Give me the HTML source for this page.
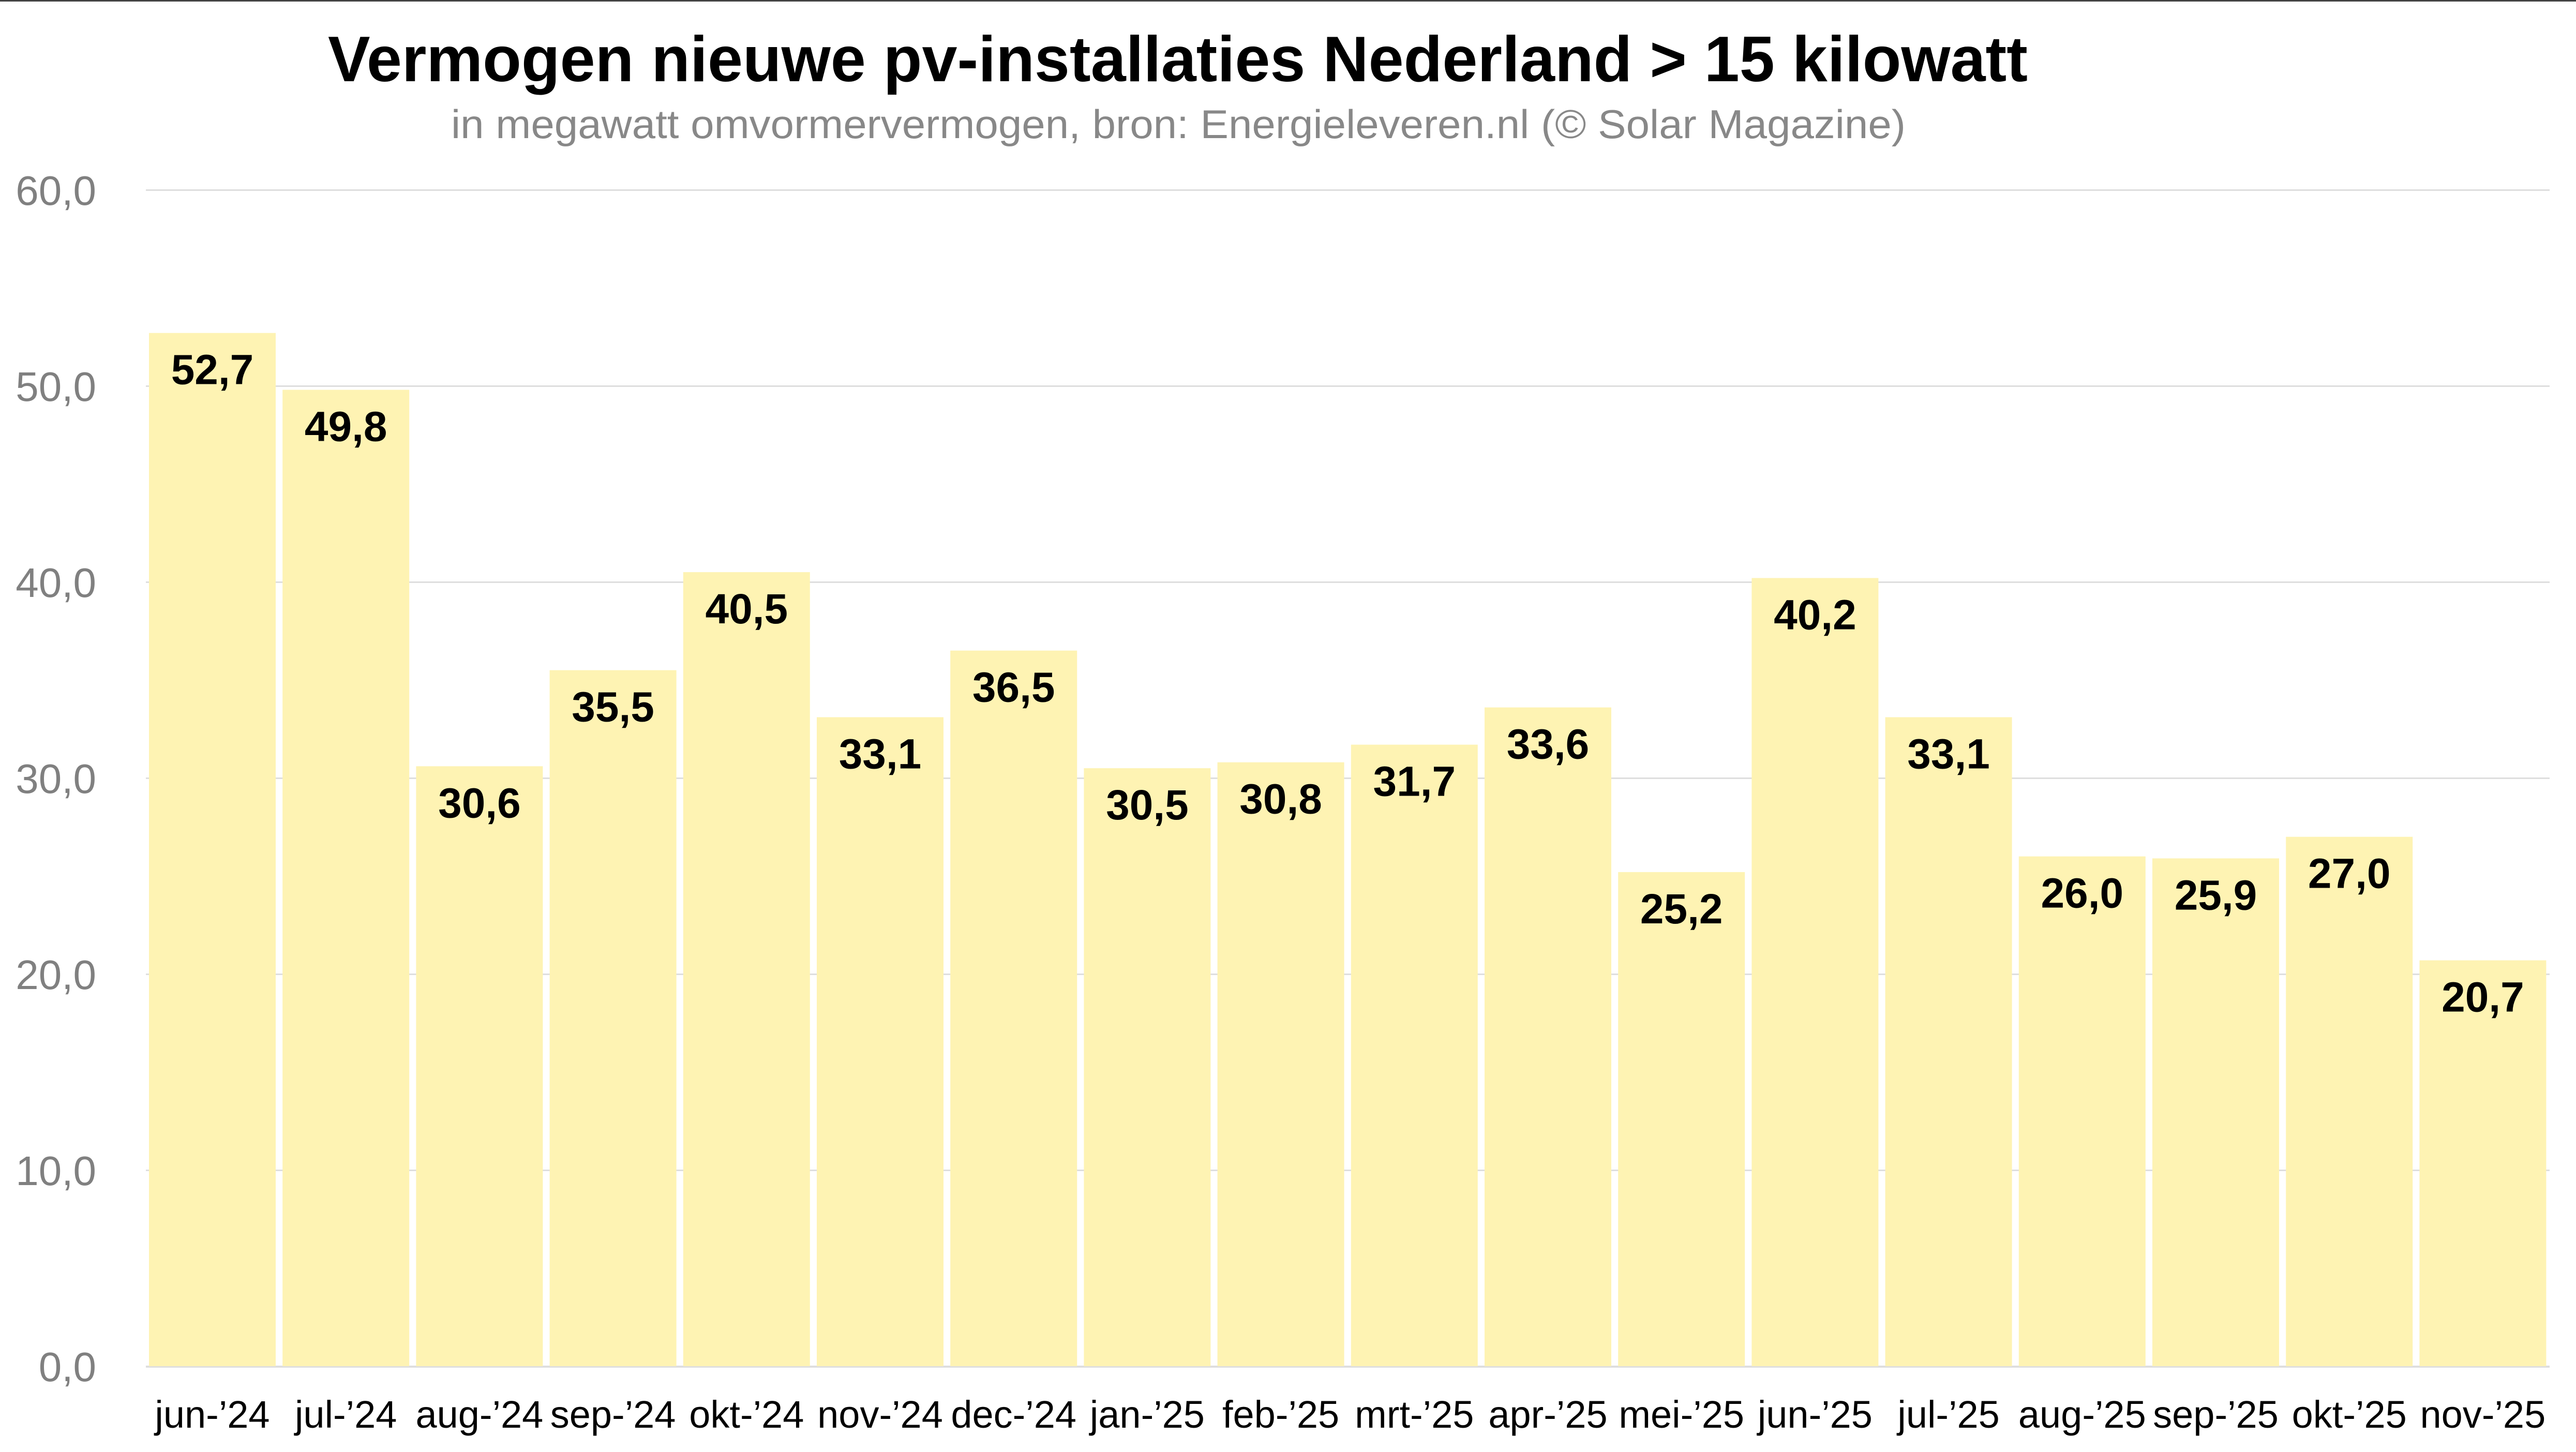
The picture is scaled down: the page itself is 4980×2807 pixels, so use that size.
<!DOCTYPE html>
<html><head><meta charset="utf-8"><style>html,body{margin:0;padding:0;background:#fff}svg{display:block}</style></head>
<body>
<svg xmlns="http://www.w3.org/2000/svg" width="4980" height="2807" viewBox="0 0 4980 2807" font-family="Liberation Sans, sans-serif">
<rect width="4980" height="2807" fill="#fff"/>
<rect x="0" y="0" width="4980" height="3" fill="#444"/>
<text x="634" y="157" font-size="124" font-weight="bold" textLength="3286" lengthAdjust="spacingAndGlyphs">Vermogen nieuwe pv-installaties Nederland &gt; 15 kilowatt</text>
<text x="872" y="267" font-size="78" fill="#888" textLength="2812" lengthAdjust="spacingAndGlyphs">in megawatt omvormervermogen, bron: Energieleveren.nl (© Solar Magazine)</text>
<g fill="#dedede">
<rect x="282" y="366" width="4647" height="3"/>
<rect x="282" y="745" width="4647" height="3"/>
<rect x="282" y="1124" width="4647" height="3"/>
<rect x="282" y="1503" width="4647" height="3"/>
<rect x="282" y="1882" width="4647" height="3"/>
<rect x="282" y="2261" width="4647" height="3"/>
<rect x="282" y="2640" width="4647" height="4"/>
</g>
<g font-size="80" fill="#808080" text-anchor="end">
<text x="186" y="396">60,0</text>
<text x="186" y="775">50,0</text>
<text x="186" y="1154">40,0</text>
<text x="186" y="1533">30,0</text>
<text x="186" y="1912">20,0</text>
<text x="186" y="2291">10,0</text>
<text x="186" y="2670">0,0</text>
</g>
<g fill="#FEF3B3">
<rect x="288" y="643.7" width="245" height="1997.3"/>
<rect x="546.2" y="753.6" width="245" height="1887.4"/>
<rect x="804.4" y="1481.3" width="245" height="1159.7"/>
<rect x="1062.6" y="1295.6" width="245" height="1345.4"/>
<rect x="1320.8" y="1106.1" width="245" height="1534.9"/>
<rect x="1579" y="1386.5" width="245" height="1254.5"/>
<rect x="1837.2" y="1257.7" width="245" height="1383.3"/>
<rect x="2095.4" y="1485.1" width="245" height="1155.9"/>
<rect x="2353.6" y="1473.7" width="245" height="1167.3"/>
<rect x="2611.8" y="1439.6" width="245" height="1201.4"/>
<rect x="2870" y="1367.6" width="245" height="1273.4"/>
<rect x="3128.2" y="1685.9" width="245" height="955.1"/>
<rect x="3386.4" y="1117.4" width="245" height="1523.6"/>
<rect x="3644.6" y="1386.5" width="245" height="1254.5"/>
<rect x="3902.8" y="1655.6" width="245" height="985.4"/>
<rect x="4161" y="1659.4" width="245" height="981.6"/>
<rect x="4419.2" y="1617.7" width="245" height="1023.3"/>
<rect x="4677.4" y="1856.5" width="245" height="784.5"/>
</g>
<g font-size="82" font-weight="bold" text-anchor="middle">
<text x="410.5" y="742.7">52,7</text>
<text x="668.7" y="852.6">49,8</text>
<text x="926.9" y="1580.3">30,6</text>
<text x="1185.1" y="1394.6">35,5</text>
<text x="1443.3" y="1205.1">40,5</text>
<text x="1701.5" y="1485.5">33,1</text>
<text x="1959.7" y="1356.7">36,5</text>
<text x="2217.9" y="1584.1">30,5</text>
<text x="2476.1" y="1572.7">30,8</text>
<text x="2734.3" y="1538.6">31,7</text>
<text x="2992.5" y="1466.6">33,6</text>
<text x="3250.7" y="1784.9">25,2</text>
<text x="3508.9" y="1216.4">40,2</text>
<text x="3767.1" y="1485.5">33,1</text>
<text x="4025.3" y="1754.6">26,0</text>
<text x="4283.5" y="1758.4">25,9</text>
<text x="4541.7" y="1716.7">27,0</text>
<text x="4799.9" y="1955.5">20,7</text>
</g>
<g font-size="74" text-anchor="middle">
<text x="410.5" y="2760">jun-’24</text>
<text x="668.7" y="2760">jul-’24</text>
<text x="926.9" y="2760">aug-’24</text>
<text x="1185.1" y="2760">sep-’24</text>
<text x="1443.3" y="2760">okt-’24</text>
<text x="1701.5" y="2760">nov-’24</text>
<text x="1959.7" y="2760">dec-’24</text>
<text x="2217.9" y="2760">jan-’25</text>
<text x="2476.1" y="2760">feb-’25</text>
<text x="2734.3" y="2760">mrt-’25</text>
<text x="2992.5" y="2760">apr-’25</text>
<text x="3250.7" y="2760">mei-’25</text>
<text x="3508.9" y="2760">jun-’25</text>
<text x="3767.1" y="2760">jul-’25</text>
<text x="4025.3" y="2760">aug-’25</text>
<text x="4283.5" y="2760">sep-’25</text>
<text x="4541.7" y="2760">okt-’25</text>
<text x="4799.9" y="2760">nov-’25</text>
</g>
</svg>
</body></html>
